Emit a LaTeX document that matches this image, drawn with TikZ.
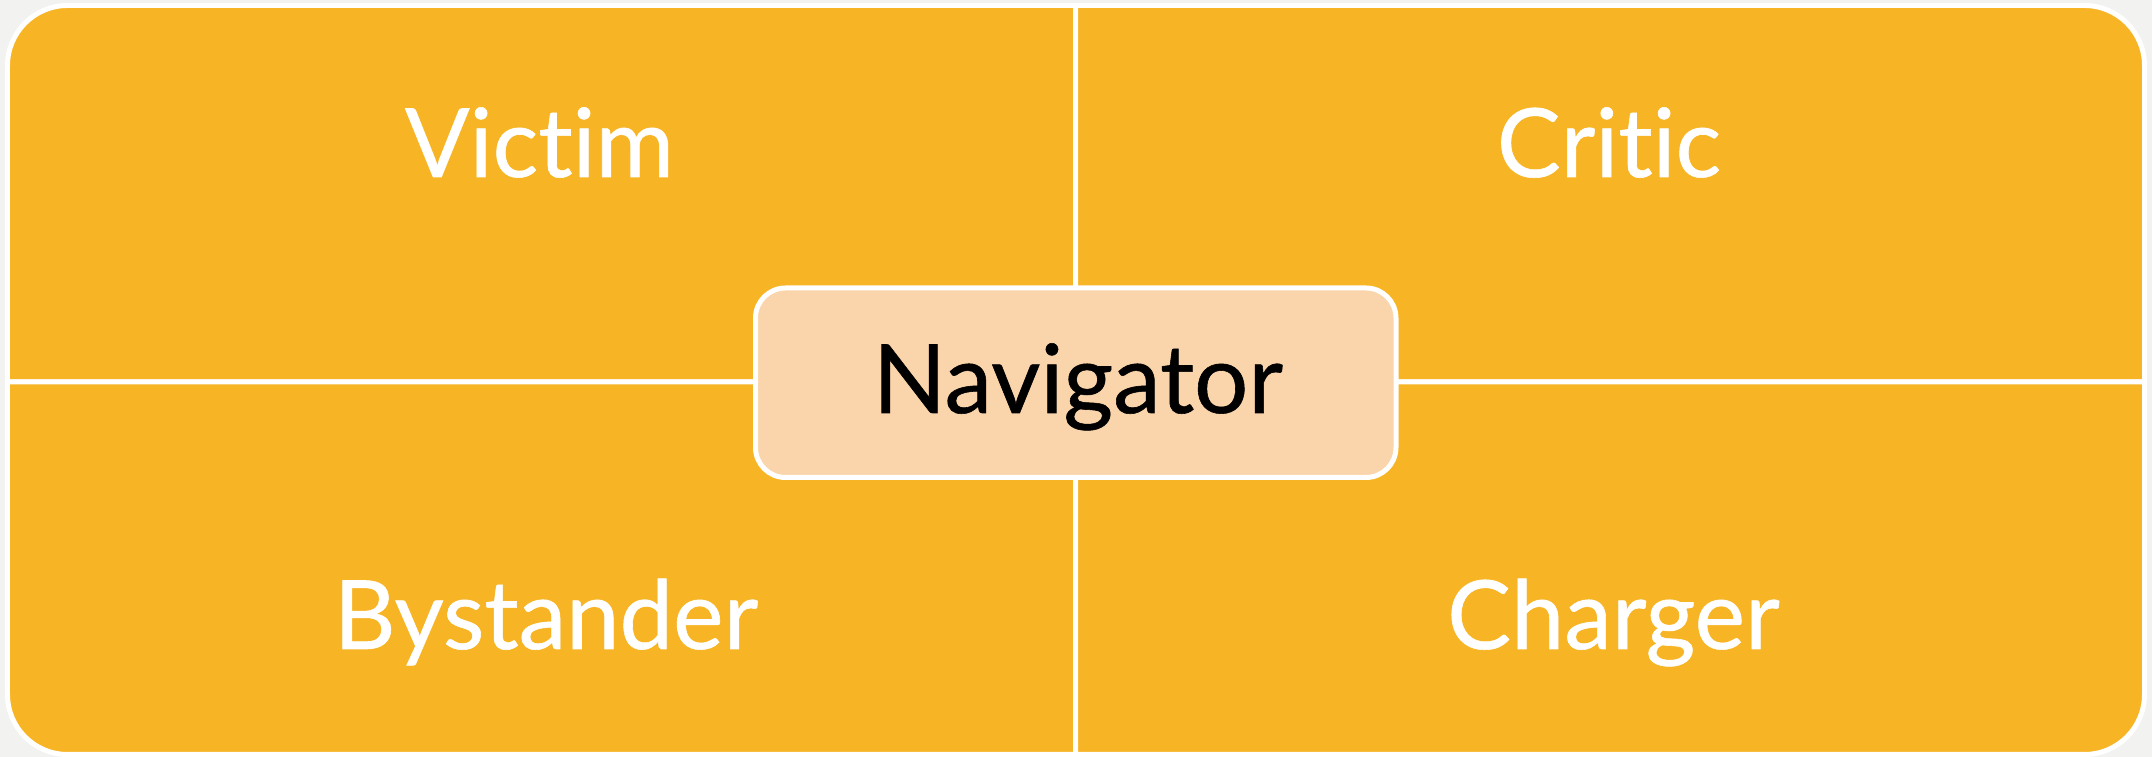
\documentclass[tikz,border=0pt]{standalone}
\usepackage{fontspec}
\setmainfont[Ligatures=NoCommon,FakeBold=0.6]{Lato}
\definecolor{bgc}{HTML}{F2F2F0}
\definecolor{quadc}{HTML}{F7B425}
\definecolor{peach}{HTML}{FAD4AA}
\tikzset{
  quad/.style={fill=quadc, draw=white, line width=0.05cm, line join=round},
  lbl/.style={anchor=base, text=white, font=\fontsize{27.2pt}{30pt}\selectfont, inner sep=0pt},
  centerbox/.style={fill=peach, draw=white, line width=0.05cm, rounded corners=0.3cm,
     minimum width=6.405cm, minimum height=1.895cm, inner sep=0pt},
}
\begin{document}
\begin{tikzpicture}
\fill[bgc] (0,0) rectangle (21.52,-7.57);
\useasboundingbox (0,0) rectangle (21.52,-7.57);
% top-left
\draw[quad] (10.755,-3.82) -- (0.075,-3.82) -- (0.075,-0.655)
  arc[start angle=180, end angle=90, radius=0.6] -- (10.755,-0.055) -- cycle;
% top-right
\draw[quad] (10.755,-3.82) -- (10.755,-0.055) -- (20.845,-0.055)
  arc[start angle=90, end angle=0, radius=0.6] -- (21.445,-3.82) -- cycle;
% bottom-left
\draw[quad] (10.755,-3.82) -- (0.075,-3.82) -- (0.075,-6.945)
  arc[start angle=180, end angle=270, radius=0.6] -- (10.755,-7.545) -- cycle;
% bottom-right
\draw[quad] (10.755,-3.82) -- (21.445,-3.82) -- (21.445,-6.945)
  arc[start angle=0, end angle=-90, radius=0.6] -- (10.755,-7.545) -- cycle;
\node[centerbox] (nav) at (10.7575,-3.8275) {};
\node[lbl, text=black] (navtext) at (10.78,-4.13) {Navigator};
\node[lbl] (victim) at (5.395,-1.77) {Victim};
\node[lbl] (critic) at (16.09,-1.77) {Critic};
\node[lbl] (bystander) at (5.46,-6.49) {Bystander};
\node[lbl] (charger) at (16.135,-6.49) {Charger};
\end{tikzpicture}
\end{document}
